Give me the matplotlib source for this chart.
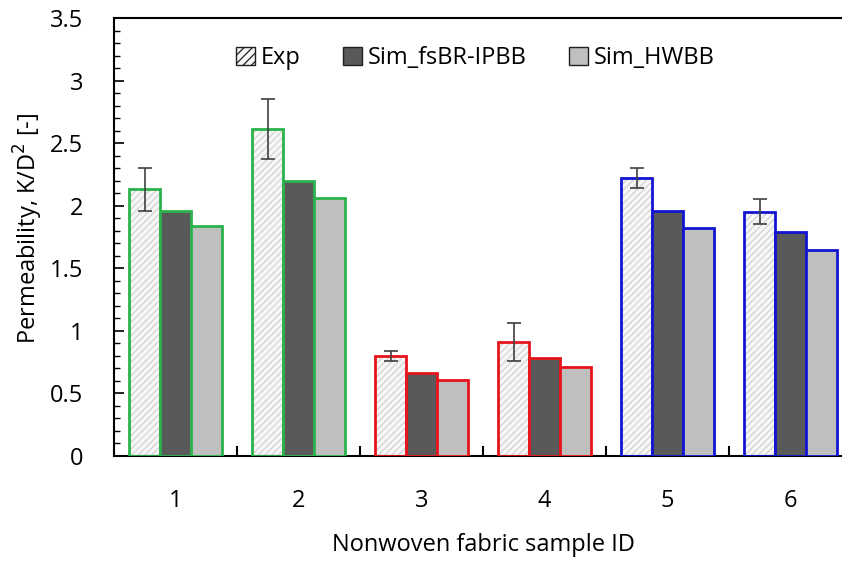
import numpy as np
import matplotlib
matplotlib.use("Agg")
import matplotlib.pyplot as plt
import matplotlib.ticker as mticker
from matplotlib.patches import Patch

samples = ["1", "2", "3", "4", "5", "6"]
exp_vals = [2.13, 2.61, 0.80, 0.91, 2.22, 1.95]
exp_err = [0.17, 0.24, 0.04, 0.15, 0.08, 0.10]
sim_fsbr = [1.96, 2.20, 0.66, 0.78, 1.96, 1.79]
sim_hwbb = [1.84, 2.06, 0.61, 0.71, 1.82, 1.65]
edge_cols = ["#2bb24c", "#2bb24c", "#e8141c", "#e8141c", "#1414d2", "#1414d2"]

plt.rcParams['font.family'] = ['Open Sans', 'DejaVu Sans']
plt.rcParams['hatch.linewidth'] = 0.9

fig = plt.figure(figsize=(8.42, 5.64), dpi=100)
# right edge of the plot is cut off in the original
ax = fig.add_axes([114 / 842, 108 / 564, 738 / 842, 438 / 564])

x = np.arange(len(samples))
w = 0.25

ax.bar(x - w, exp_vals, w, color="#f7f7f7", hatch="/////", edgecolor="#d2d2d2", linewidth=0, zorder=2)
ax.bar(x - w, exp_vals, w, fill=False, edgecolor=edge_cols, linewidth=2, zorder=3)
ax.bar(x, sim_fsbr, w, color="#595959", edgecolor=edge_cols, linewidth=2, zorder=3)
ax.bar(x + w, sim_hwbb, w, color="#bfbfbf", edgecolor=edge_cols, linewidth=2, zorder=3)
ax.errorbar(x - w, exp_vals, yerr=exp_err, fmt="none", ecolor="#404040",
            elinewidth=1.2, capsize=5, capthick=1.2, zorder=4)

ax.set_xlim(-0.5, 5.5)
ax.set_ylim(0, 3.5)
ax.yaxis.set_major_locator(mticker.MultipleLocator(0.5))
ax.yaxis.set_minor_locator(mticker.MultipleLocator(0.1))
ax.yaxis.set_major_formatter(mticker.FuncFormatter(lambda v, p: "%g" % v))
ax.tick_params(axis="y", which="major", direction="in", length=7, width=1.2, labelsize=17, pad=22)
ax.tick_params(axis="y", which="minor", direction="in", length=4, width=1)

ax.set_xticks(np.arange(0.5, 5.5, 1.0))
ax.set_xticklabels([])
ax.set_xticks(x, minor=True)
ax.set_xticklabels(samples, minor=True)
ax.tick_params(axis="x", which="major", direction="in", length=7, width=1.5)
ax.tick_params(axis="x", which="minor", length=0, labelsize=17, pad=24)

for s in ax.spines.values():
    s.set_linewidth(1.5)

ax.set_xlabel("Nonwoven fabric sample ID", fontsize=17, labelpad=14)
ax.set_ylabel("Permeability, K/D$^2$ [-]", fontsize=17)
ax.yaxis.set_label_coords(-0.094, 0.52)

handles = [
    Patch(facecolor="#f7f7f7", edgecolor="#202020", hatch="////", label="Exp"),
    Patch(facecolor="#595959", edgecolor="#202020", label="Sim_fsBR-IPBB"),
    Patch(facecolor="#bfbfbf", edgecolor="#202020", label="Sim_HWBB"),
]
ax.legend(handles=handles, loc="center", bbox_to_anchor=(0.49, 0.909), ncol=3,
          frameon=False, fontsize=17, handlelength=0.8, handleheight=0.8,
          handletextpad=0.25, columnspacing=1.8)

fig.savefig("out.png", dpi=100)
